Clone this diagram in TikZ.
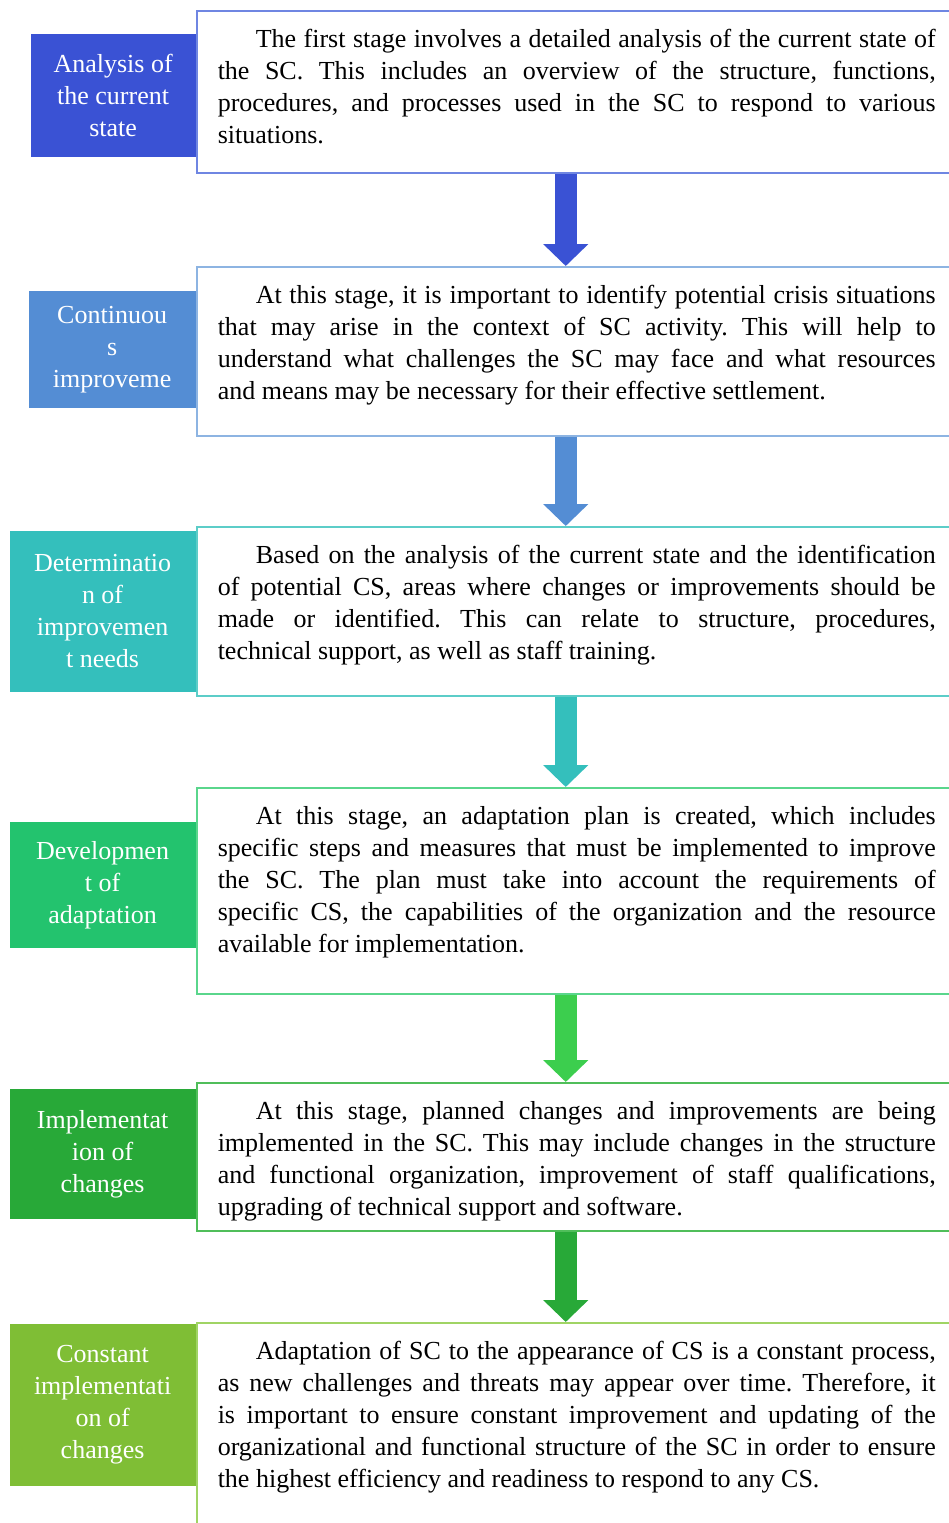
\documentclass[tikz,border=0pt]{standalone}
\usepackage{fontspec}
\setmainfont{Liberation Serif}
\usetikzlibrary{arrows.meta}
\frenchspacing
\definecolor{stageA}{RGB}{58,82,212}
\definecolor{stageB}{RGB}{84,141,212}
\definecolor{stageC}{RGB}{52,191,188}
\definecolor{stageD}{RGB}{35,195,110}
\definecolor{stageE}{RGB}{40,169,56}
\definecolor{stageF}{RGB}{127,190,53}
\definecolor{frameA}{RGB}{111,134,226}
\definecolor{frameB}{RGB}{141,180,226}
\definecolor{frameC}{RGB}{92,205,200}
\definecolor{frameD}{RGB}{90,214,140}
\definecolor{frameE}{RGB}{80,190,90}
\definecolor{frameF}{RGB}{160,212,100}
\definecolor{arrowD}{RGB}{60,206,78}
\begin{document}
\begin{tikzpicture}[x=0.5pt,y=-0.5pt,
    stage/.style ={fill=#1, text=white, align=center, inner sep=0pt, anchor=east, font=\fontsize{13}{16}\selectfont},
    descr/.style ={draw=#1, fill=white, line width=0.75pt, anchor=north west, text width=359pt, align=justify,
      inner xsep=10.5pt, inner ysep=0pt, text height=18.5pt, font=\fontsize{13}{16}\selectfont,
      execute at begin node=\hspace*{19pt}},
    flow/.style ={draw=#1, line width=11pt, -{Triangle[width=22pt,length=11pt]}}]
   \useasboundingbox (0,0) rectangle (949,1523);
   \node[descr=frameA, text depth=62.5pt] (B1) at (196,10) {The first stage involves a detailed analysis of the current state of\linebreak the SC. This includes an overview of the structure, functions,\linebreak procedures, and processes used in the SC to respond to various\linebreak situations.};
   \node[descr=frameB, text depth=66pt] (B2) at (196,266) {At this stage, it is important to identify potential crisis situations\linebreak that may arise in the context of SC activity. This will help to\linebreak understand what challenges the SC may face and what resources\linebreak and means may be necessary for their effective settlement.};
   \node[descr=frameC, text depth=66pt] (B3) at (196,526) {Based on the analysis of the current state and the identification\linebreak of potential CS, areas where changes or improvements should be\linebreak made or identified. This can relate to structure, procedures,\linebreak technical support, as well as staff training.};
   \node[descr=frameD, text depth=84.5pt] (B4) at (196,787) {At this stage, an adaptation plan is created, which includes\linebreak specific steps and measures that must be implemented to improve\linebreak the SC. The plan must take into account the requirements of\linebreak specific CS, the capabilities of the organization and the resource\linebreak available for implementation.};
   \node[descr=frameE, text depth=55.5pt] (B5) at (196,1082) {At this stage, planned changes and improvements are being\linebreak implemented in the SC. This may include changes in the structure\linebreak and functional organization, improvement of staff qualifications,\linebreak upgrading of technical support and software.};
   \node[descr=frameF, text depth=120pt] (B6) at (196,1322) {Adaptation of SC to the appearance of CS is a constant process,\linebreak as new challenges and threats may appear over time. Therefore, it\linebreak is important to ensure constant improvement and updating of the\linebreak organizational and functional structure of the SC in order to ensure\linebreak the highest efficiency and readiness to respond to any CS.};
   \node[stage=stageA, minimum width=82.5pt, minimum height=61.5pt] (L1) at (196,95) {Analysis of\\the current\\state};
   \node[stage=stageB, minimum width=83.5pt, minimum height=58.5pt] (L2) at (196,349.5) {Continuou\\s\\improveme};
   \node[stage=stageC, minimum width=93pt, minimum height=80.5pt] (L3) at (196,611.5) {Determinatio\\n of\\improvemen\\t needs};
   \node[stage=stageD, minimum width=93pt, minimum height=63pt] (L4) at (196,885) {Developmen\\t of\\adaptation};
   \node[stage=stageE, minimum width=93pt, minimum height=65pt] (L5) at (196,1154) {Implementat\\ion of\\changes};
   \node[stage=stageF, minimum width=93pt, minimum height=81pt] (L6) at (196,1405) {Constant\\implementati\\on of\\changes};
   \draw[flow=stageA] ([xshift=-5.5pt]B1.south) -- ([xshift=-5.5pt]B2.north);
   \draw[flow=stageB] ([xshift=-5.5pt]B2.south) -- ([xshift=-5.5pt]B3.north);
   \draw[flow=stageC] ([xshift=-5.5pt]B3.south) -- ([xshift=-5.5pt]B4.north);
   \draw[flow=arrowD] ([xshift=-5.5pt]B4.south) -- ([xshift=-5.5pt]B5.north);
   \draw[flow=stageE] ([xshift=-5.5pt]B5.south) -- ([xshift=-5.5pt]B6.north);
 \end{tikzpicture}
\end{document}
